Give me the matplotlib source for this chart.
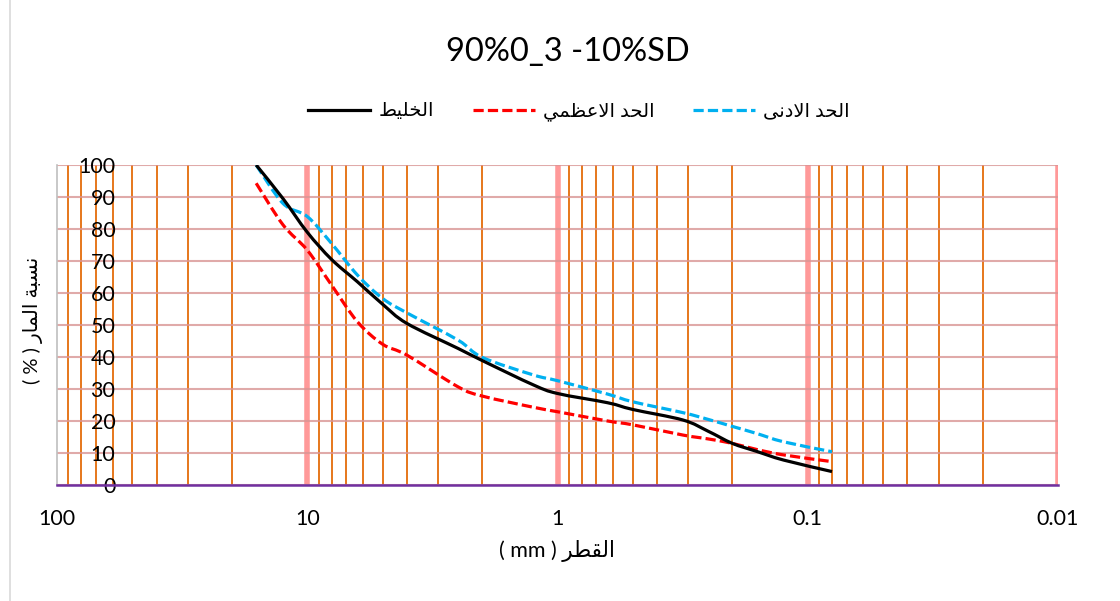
import matplotlib
matplotlib.use('Agg')
import matplotlib.pyplot as plt
from matplotlib.ticker import LogLocator, NullFormatter, FixedLocator, FixedFormatter
from matplotlib.path import Path
from matplotlib.patches import PathPatch
from matplotlib.lines import Line2D
import numpy as np

# sieve sizes (mm) and passing percentages
sizes = [16, 12.5, 10, 8, 6.3, 5, 4, 2.5, 2, 1.25, 1, 0.63, 0.5, 0.315, 0.25, 0.2, 0.16, 0.125, 0.08]
mix   = [100, 89.5, 79, 70.5, 63.5, 56.5, 50.5, 42.7, 38.9, 31.3, 28.6, 25.7, 23.6, 20.3, 16.8, 13.0, 10.5, 7.8, 4.2]
upper = [94.3, 81.3, 73.4, 62.5, 51.0, 44.0, 40.6, 30.7, 27.8, 24.3, 22.9, 20.0, 18.8, 15.6, 14.4, 13.0, 11.1, 9.4, 7.3]
lower = [100, 88.0, 83.9, 75.5, 65.6, 58.3, 53.8, 45.3, 39.9, 34.4, 32.6, 28.4, 26.0, 22.6, 20.5, 18.3, 16.1, 13.5, 10.4]

x_ticks = [100, 10, 1, 0.1, 0.01]
x_labels = ['100', '10', '1', '0.1', '0.01']
y_ticks = list(range(0, 101, 10))

title = '90%0_3 -10%SD'

#--------------------------------------------------------------------
# minimal arabic shaping (no reshaper lib available)
FORMS = {
    'ا': (0xFE8D, 0xFE8E, None, None),
    'ب': (0xFE8F, 0xFE90, 0xFE91, 0xFE92),
    'ة': (0xFE93, 0xFE94, None, None),
    'ح': (0xFEA1, 0xFEA2, 0xFEA3, 0xFEA4),
    'خ': (0xFEA5, 0xFEA6, 0xFEA7, 0xFEA8),
    'د': (0xFEA9, 0xFEAA, None, None),
    'ر': (0xFEAD, 0xFEAE, None, None),
    'س': (0xFEB1, 0xFEB2, 0xFEB3, 0xFEB4),
    'ط': (0xFEC1, 0xFEC2, 0xFEC3, 0xFEC4),
    'ظ': (0xFEC5, 0xFEC6, 0xFEC7, 0xFEC8),
    'ع': (0xFEC9, 0xFECA, 0xFECB, 0xFECC),
    'ق': (0xFED5, 0xFED6, 0xFED7, 0xFED8),
    'ل': (0xFEDD, 0xFEDE, 0xFEDF, 0xFEE0),
    'م': (0xFEE1, 0xFEE2, 0xFEE3, 0xFEE4),
    'ن': (0xFEE5, 0xFEE6, 0xFEE7, 0xFEE8),
    'ى': (0xFEEF, 0xFEF0, None, None),
    'ي': (0xFEF1, 0xFEF2, 0xFEF3, 0xFEF4),
    '\uFEFB': (0xFEFB, 0xFEFC, None, None),  # lam-alef
}

def shape(word):
    word = word.replace('لا', '\uFEFB')
    out = []
    for i, ch in enumerate(word):
        iso, fin, ini, med = FORMS[ch]
        prev = word[i-1] if i > 0 else None
        nxt = word[i+1] if i < len(word)-1 else None
        jp = prev is not None and FORMS[prev][2] is not None
        jn = ini is not None and nxt is not None
        if jp and jn:
            c = med
        elif jp:
            c = fin
        elif jn:
            c = ini
        else:
            c = iso
        out.append(chr(c))
    return ''.join(reversed(out))

def rtl(text):
    return ' '.join(shape(w) for w in reversed(text.split(' ')))

lbl_mix = rtl('الخليط')
lbl_upper = rtl('الحد الاعظمي')
lbl_lower = rtl('الحد الادنى')
xlabel = '( mm ) ' + shape('القطر')
ylabel = '( % ) ' + rtl('نسبة المار')

#--------------------------------------------------------------------
def smooth_path(xs, ys):
    # excel-like smoothed line: cubic bezier through the points (log-x space)
    lx = np.log10(np.asarray(xs, float))
    y = np.asarray(ys, float)
    n = len(lx)
    verts = [(xs[0], ys[0])]
    codes = [Path.MOVETO]
    for i in range(n-1):
        i0 = max(i-1, 0)
        i3 = min(i+2, n-1)
        c1 = (lx[i] + (lx[i+1]-lx[i0])/6, y[i] + (y[i+1]-y[i0])/6)
        c2 = (lx[i+1] - (lx[i3]-lx[i])/6, y[i+1] - (y[i3]-y[i])/6)
        verts += [(10**c1[0], c1[1]), (10**c2[0], c2[1]), (xs[i+1], ys[i+1])]
        codes += [Path.CURVE4]*3
    return Path(verts, codes)

fonts = ['Lato', 'DejaVu Sans']
plt.rcParams['font.family'] = fonts

fig = plt.figure(figsize=(11.2, 6.01), dpi=100)
ax = fig.add_axes([57/1120, 1-485/601, 1001/1120, 320/601])

ax.set_xscale('log')
ax.set_xlim(100, 0.01)
ax.set_ylim(0, 100)

ax.xaxis.set_major_locator(FixedLocator(x_ticks))
ax.xaxis.set_major_formatter(FixedFormatter(x_labels))
ax.xaxis.set_minor_locator(LogLocator(base=10, subs=np.arange(2, 10)))
ax.xaxis.set_minor_formatter(NullFormatter())
ax.set_yticks(y_ticks)

ax.grid(axis='x', which='major', color='#FF8080', alpha=0.8, linewidth=4, zorder=1)
ax.grid(axis='x', which='minor', color='#E46C0A', linewidth=1.3, zorder=1)
ax.grid(axis='y', which='major', color='#D99594', alpha=0.8, linewidth=1.5, zorder=1)
ax.get_xgridlines()[0].set_visible(False)

ax.tick_params(axis='both', which='both', length=0)
ax.tick_params(axis='x', labelsize=15.5, pad=17)
ax.tick_params(axis='y', labelsize=15.5, pad=-42)

for s in ['top', 'right']:
    ax.spines[s].set_visible(False)
ax.spines['left'].set_color('#BFBFBF')
ax.spines['left'].set_linewidth(1.2)
ax.spines['bottom'].set_color('#7030A0')
ax.spines['bottom'].set_linewidth(1.8)

series = [(mix, 'black', None, 5, lbl_mix),
          (upper, '#FF0000', (3.2, 1.3), 4, lbl_upper),
          (lower, '#00B0F0', (3.2, 1.3), 4, lbl_lower)]
handles = []
for vals, col, dash, z, lbl in series:
    ls = (0, dash) if dash else '-'
    ax.add_patch(PathPatch(smooth_path(sizes, vals), facecolor='none', edgecolor=col,
                           lw=2.3, linestyle=ls, zorder=z, capstyle='butt'))
    h = Line2D([], [], color=col, lw=2.3, label=lbl)
    if dash:
        h.set_dashes(dash)
    handles.append(h)

ax.set_xlabel(xlabel, fontsize=15.5)
ax.xaxis.set_label_coords(0.4995, -0.172)
ax.set_ylabel(ylabel, fontsize=14.5)
ax.yaxis.set_label_coords(-0.014, 0.516)

fig.text(0.507, 0.913, title, ha='center', va='center', fontsize=23.5)
fig.legend(handles=handles, loc='center', bbox_to_anchor=(0.517, 0.814),
           ncol=3, frameon=False, fontsize=14, handlelength=3.2, columnspacing=2.0,
           handletextpad=0.4)

# chart area border (left edge visible in the screenshot)
fig.add_artist(Line2D([10/1120, 10/1120], [0, 1], transform=fig.transFigure,
                      color='#D9D9D9', lw=1.2))

fig.savefig('out.png', dpi=100)
